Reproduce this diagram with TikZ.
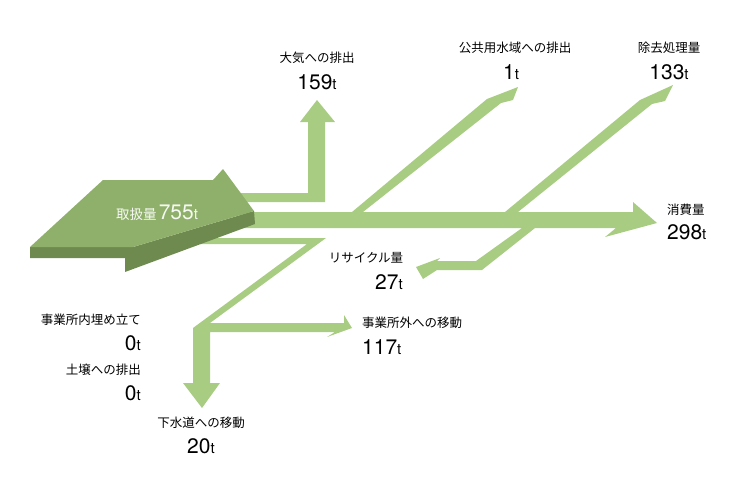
\documentclass[tikz,border=0pt]{standalone}
\usepackage{fontspec}
\setmainfont{Noto Sans CJK JP}
\newfontfamily\numfont{TeX Gyre Heros}
\usetikzlibrary{positioning}
\definecolor{flowgreen}{HTML}{A8CD82}
\definecolor{topgreen}{HTML}{8FB06A}
\definecolor{sidegreen}{HTML}{6E8A4F}
\newcommand{\amt}[1]{{\numfont\fontsize{21}{21}\selectfont #1\fontsize{15}{15}\selectfont t}}

\begin{document}
\begin{tikzpicture}[x=1pt, y=-1pt,
        % flows
        flow/.style={fill=flowgreen, draw=none},
        % labels
        lbl/.style={font=\fontsize{12.5}{13}\selectfont, inner sep=0pt},
        num/.style={inner sep=0pt}
    ]
    \useasboundingbox (0,0) rectangle (750,480);

    % flows
    \fill[flow] (235,193) -- (308,193) -- (308,122) -- (300,122) -- (317,100) -- (335,122) -- (325,122) -- (325,202) -- (235,202) -- cycle;
    \fill[flow] (240,212) -- (352,212) -- (487,99) -- (518,87) -- (513,100) -- (501,103) -- (363,212) -- (505,212) -- (640,100) -- (673,85) -- (665,101) -- (652,104) -- (518,212) -- (633,212) -- (633,202) -- (657,223) -- (605,237) -- (616,228) -- (535,228) -- (482,270) -- (437,270) -- (423,279) -- (416,267) -- (440,258) -- (437,261) -- (476,261) -- (522,228) -- (240,228) -- cycle;
    \fill[flow] (200,238) -- (326,238) -- (210,323) -- (344,323) -- (344,315) -- (352,328) -- (327,337) -- (335,332) -- (210,332) -- (210,383) -- (220,383) -- (202,408) -- (183,383) -- (193,383) -- (193,328) -- (307,244) -- (200,244) -- cycle;

    % main arrow
    \fill[sidegreen] (30,247) -- (133,247) -- (254,211) -- (255,224) -- (125,272) -- (125,258) -- (30,258) -- cycle;
    \fill[topgreen] (30,247) -- (103,180) -- (213,180) -- (223,169) -- (254,211) -- (133,247) -- cycle;
    \node[num, text=white!92!topgreen] (total) at (157,213) {{\fontsize{13.5}{14}\selectfont 取扱量} \amt{755}};

    % labels
    \node[lbl] (airL) at (317,58) {大気への排出};
    \node[num] (airN) at (317,82) {\amt{159}};
    \node[lbl] (waterL) at (515,48) {公共用水域への排出};
    \node[num] (waterN) at (511,72) {\amt{1}};
    \node[lbl] (remL) at (669,48) {除去処理量};
    \node[num] (remN) at (669,72) {\amt{133}};
    \node[lbl, anchor=west] (useL) at (667,210) {消費量};
    \node[num, anchor=west] (useN) at (667,232) {\amt{298}};
    \node[lbl] (recL) at (366,258) {リサイクル量};
    \node[num] (recN) at (389,282) {\amt{27}};
    \node[lbl, anchor=west] (outL) at (362,323) {事業所外への移動};
    \node[num, anchor=west] (outN) at (362,347) {\amt{117}};
    \node[lbl, anchor=east] (landL) at (141,320) {事業所内埋め立て};
    \node[num, anchor=east] (landN) at (141,343) {\amt{0}};
    \node[lbl, anchor=east] (soilL) at (141,370) {土壌への排出};
    \node[num, anchor=east] (soilN) at (141,393) {\amt{0}};
    \node[lbl] (sewL) at (201,423) {下水道への移動};
    \node[num] (sewN) at (201,446) {\amt{20}};
\end{tikzpicture}
\end{document}
